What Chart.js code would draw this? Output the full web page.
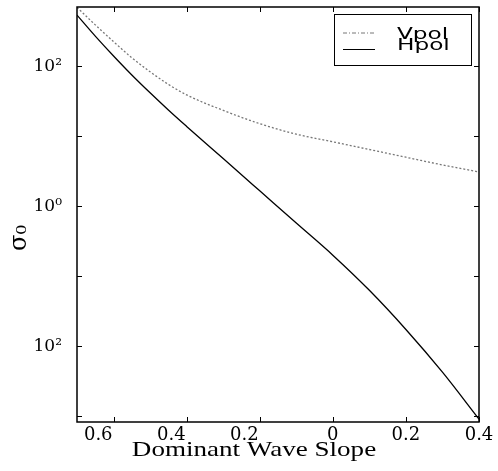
<!DOCTYPE html>
<html>
<head>
<meta charset="utf-8">
<script src="https://cdn.jsdelivr.net/npm/chart.js@4.4.1/dist/chart.umd.min.js"></script>
<style>
  body { margin: 0; background: #fff; }
  #wrap { width: 498px; height: 471px; }
</style>
</head>
<body>
<div id="wrap"><canvas id="slopecanvas"></canvas></div>
<script>
// values
const xValues = [-0.7, -0.65, -0.6, -0.55, -0.5, -0.45, -0.4, -0.3, -0.2, -0.1, 0, 0.1, 0.2, 0.3, 0.4];
const vpolValues = [692, 389, 224, 132, 83.2, 55.0, 38.9, 23.4, 15.1, 10.7, 8.32, 6.46, 5.01, 3.89, 3.09];
const hpolValues = [537, 269, 140, 75.0, 41.7, 23.7, 13.8, 4.79, 1.66, 0.575, 0.2, 0.063, 0.0174, 0.00427, 0.000912];
const seriesNames = ['Vpol', 'Hpol'];

const xTicks = [-0.6, -0.4, -0.2, 0, 0.2, 0.4];
const xTickLabels = ['0.6', '0.4', '0.2', '0', '0.2', '0.4'];
const yTicks = [1e-3, 1e-2, 1e-1, 1, 10, 100];
const yTickLabels = ['', '10²', '', '10⁰', '', '10²'];

function toPoints(ys) {
    return xValues.map(function(x, i) { return { x: x, y: ys[i] }; });
}

// box, inward ticks, axis titles and legend box
const framePlugin = {
    id: 'frame',
    afterDraw(chart) {
        let ctx = chart.ctx;
        let a = chart.chartArea;
        let xs = chart.scales.x;
        let ys = chart.scales.y;
        ctx.save();
        ctx.strokeStyle = '#000';
        ctx.lineWidth = 1.5;
        ctx.strokeRect(a.left, a.top, a.right - a.left, a.bottom - a.top);

        ctx.lineWidth = 1;
        ctx.beginPath();
        xs.ticks.forEach(function(t) {
            let px = Math.round(xs.getPixelForValue(t.value)) + 0.5;
            ctx.moveTo(px, a.bottom); ctx.lineTo(px, a.bottom - 5);
            ctx.moveTo(px, a.top); ctx.lineTo(px, a.top + 5);
        });
        ys.ticks.forEach(function(t) {
            let py = Math.round(ys.getPixelForValue(t.value)) + 0.5;
            ctx.moveTo(a.left, py); ctx.lineTo(a.left + 5, py);
            ctx.moveTo(a.right, py); ctx.lineTo(a.right - 5, py);
        });
        ctx.stroke();

        // x title (the original lettering is wide, so stretch it a bit)
        ctx.fillStyle = '#000';
        ctx.font = '22px "Liberation Serif"';
        ctx.textAlign = 'center';
        ctx.textBaseline = 'alphabetic';
        ctx.save();
        ctx.translate(254, 456);
        ctx.scale(1.23, 1);
        ctx.fillText('Dominant Wave Slope', 0, 0);
        ctx.restore();

        // y title
        ctx.save();
        ctx.translate(26, 238);
        ctx.rotate(-Math.PI / 2);
        ctx.font = '24px "DejaVu Serif"';
        ctx.fillText('σ₀', 0, 0);
        ctx.restore();

        // legend
        ctx.lineWidth = 1;
        ctx.strokeRect(334.5, 14.5, 137, 51);
        let lineY = [33, 49.5];
        let textY = [39, 50];
        ctx.font = '16px "DejaVu Sans"';
        ctx.textAlign = 'left';
        chart.data.datasets.forEach(function(ds, i) {
            ctx.beginPath();
            ctx.strokeStyle = ds.borderColor;
            ctx.setLineDash(i === 0 ? [4, 2, 1, 2] : []);
            ctx.moveTo(343, lineY[i]);
            ctx.lineTo(375, lineY[i]);
            ctx.stroke();
            ctx.save();
            ctx.translate(397, textY[i]);
            ctx.scale(1.45, 1);
            ctx.fillText(ds.label, 0, 0);
            ctx.restore();
        });
        ctx.restore();
    }
};

let Canvas = document.getElementById('slopecanvas').getContext('2d');
let slopeChart = new Chart(Canvas, {
    type: 'line',
    data: {
        datasets: [{
            label: seriesNames[0],
            data: toPoints(vpolValues),
            borderColor: '#777',
            borderWidth: 1.3,
            borderDash: [2, 2],
            pointRadius: 0,
            cubicInterpolationMode: 'monotone'
        }, {
            label: seriesNames[1],
            data: toPoints(hpolValues),
            borderColor: '#000',
            borderWidth: 1.3,
            pointRadius: 0,
            cubicInterpolationMode: 'monotone'
        }]
    },
    options: {
        responsive: true,
        maintainAspectRatio: false,
        animation: false,
        layout: { padding: { left: 0, right: 19, top: 7, bottom: 0 } },
        plugins: { legend: { display: false }, tooltip: { enabled: false } },
        scales: {
            x: {
                type: 'linear',
                min: -0.7,
                max: 0.4,
                grid: { display: false, drawTicks: false },
                border: { display: false },
                afterBuildTicks: function(scale) {
                    scale.ticks = xTicks.map(function(v) { return { value: v }; });
                },
                afterFit: function(scale) {
                    scale.height = 49;
                    scale.paddingLeft = 0;
                    scale.paddingRight = 0;
                },
                ticks: {
                    autoSkip: false,
                    maxRotation: 0,
                    padding: 3,
                    color: '#000',
                    font: { family: 'DejaVu Serif', size: 18 },
                    callback: function(value, index) {
                        // negative ticks sit left of their mark in the original
                        return xTicks[index] < 0 ? xTickLabels[index] + '\u2003\u2002\u2009' : xTickLabels[index];
                    }
                }
            },
            y: {
                type: 'logarithmic',
                min: 8.3e-4,
                max: 700,
                grid: { display: false, drawTicks: false },
                border: { display: false },
                afterBuildTicks: function(scale) {
                    scale.ticks = yTicks.map(function(v) { return { value: v }; });
                },
                afterFit: function(scale) {
                    scale.width = 77;
                    scale.paddingTop = 0;
                    scale.paddingBottom = 0;
                },
                ticks: {
                    autoSkip: false,
                    padding: 15,
                    color: '#000',
                    font: { family: 'DejaVu Serif', size: 17 },
                    callback: function(value, index) { return yTickLabels[index]; }
                }
            }
        }
    },
    plugins: [framePlugin]
});
</script>
</body>
</html>
